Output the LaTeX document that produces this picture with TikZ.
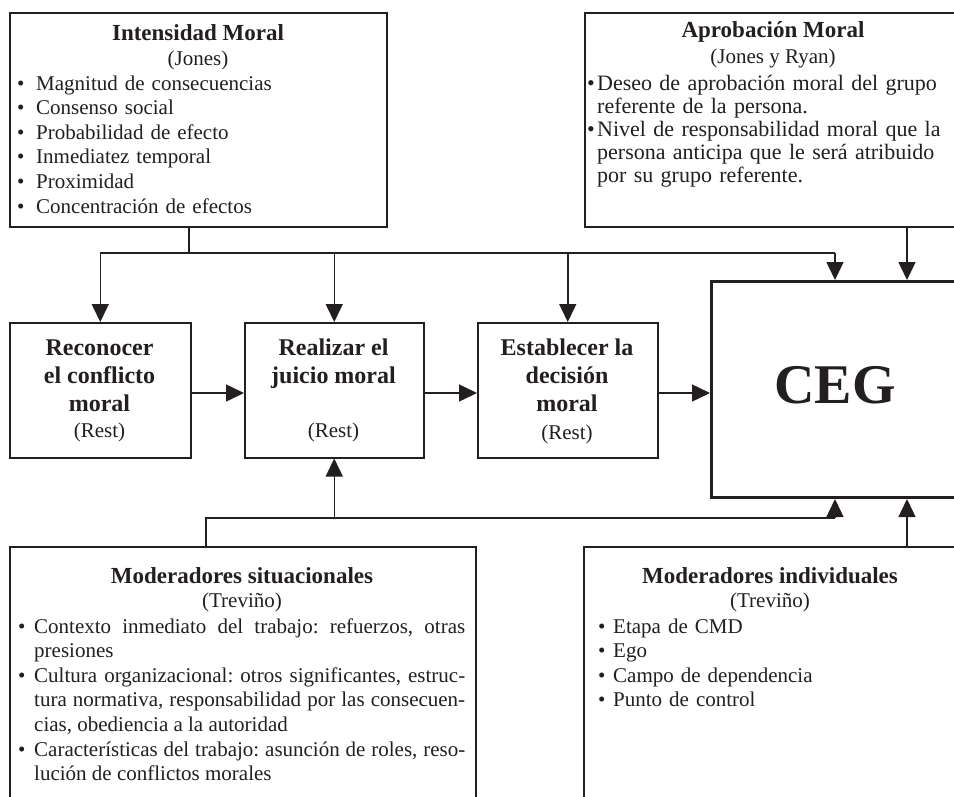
\documentclass[tikz,border=0pt]{standalone}
\usepackage{fontspec}
\setmainfont{Liberation Serif}
\usetikzlibrary{arrows.meta,calc}
\definecolor{ink}{HTML}{231F20}
\frenchspacing
\newcommand\bitem[2][19pt]{\hangindent=#1\hangafter=1\noindent\makebox[#1][l]{\textbullet}#2\par}
\tikzset{
  box/.style={draw=ink, line width=1.5pt, anchor=north west, inner sep=0pt},
  cegbox/.style={draw=ink, line width=3pt, anchor=north west, inner sep=0pt},
  link/.style={draw=ink, line width=1.5pt},
  arr/.style={link, -{Triangle[length=18pt,width=17pt]}},
  ttl/.style={font=\fontsize{23}{27}\selectfont\bfseries, anchor=base, inner sep=0pt, text=ink},
  sub/.style={font=\fontsize{21}{24.5}\selectfont, anchor=base, inner sep=0pt, text=ink},
  stage/.style={font=\fontsize{24}{28}\selectfont\bfseries, anchor=base, inner sep=0pt, text=ink, align=center},
  lst/.style={font=\fontsize{21}{24.6}\selectfont\frenchspacing, anchor=base west, inner sep=0pt, text=ink, align=left},
}
\begin{document}
\begin{tikzpicture}[x=1pt,y=-1pt]
\clip (0,0) rectangle (954,796);
\fill[white] (0,0) rectangle (954,796);

% boxes
\node[box, minimum width=377pt, minimum height=214pt] (int) at (9,12) {};
\node[box, minimum width=400pt, minimum height=214pt] (apr) at (584,12) {};
\node[box, minimum width=181pt, minimum height=135pt] (rec) at (9,322) {};
\node[box, minimum width=179pt, minimum height=135pt] (rea) at (244,322) {};
\node[box, minimum width=180pt, minimum height=135pt] (est) at (477,322) {};
\node[cegbox, minimum width=300pt, minimum height=216pt] (ceg) at (710,280) {};
\node[box, minimum width=466pt, minimum height=300pt] (sit) at (9,546) {};
\node[box, minimum width=400pt, minimum height=300pt] (ind) at (583,546) {};

% Intensidad Moral
\node[ttl] (intT) at (198,40) {Intensidad Moral};
\node[sub] (intS) at (198,65) {(Jones)};
\node[lst, text width=360pt] (intL) at (17,90) {%
\bitem{Magnitud de consecuencias}%
\bitem{Consenso social}%
\bitem{Probabilidad de efecto}%
\bitem{Inmediatez temporal}%
\bitem{Proximidad}%
\bitem{Concentración de efectos}};

% Aprobacion Moral
\node[ttl] (aprT) at (773,37) {Aprobación Moral};
\node[sub] (aprS) at (773,63) {(Jones y Ryan)};
\node[lst, text width=362pt, font=\fontsize{22}{23}\selectfont] (aprL) at (587,90) {%
\bitem[10pt]{Deseo de aprobación moral del grupo\newline referente de la persona.}%
\bitem[10pt]{Nivel de responsabilidad moral que la\newline persona anticipa que le será atribuido\newline por su grupo referente.}};

% stages (base = last line)
\node[stage] (recT) at (99.5,411) {Reconocer\\el conflicto\\moral};
\node[sub] (recS) at (99.5,437) {(Rest)};
\node[stage] (reaT) at (333.5,383) {Realizar el\\juicio moral};
\node[sub] (reaS) at (333.5,437) {(Rest)};
\node[stage] (estT) at (567,411) {Establecer la\\decisión\\moral};
\node[sub] (estS) at (567,439) {(Rest)};
\node[font=\fontsize{56}{60}\selectfont\bfseries, anchor=base, inner sep=0pt, text=ink] (cegT) at (835,403) {CEG};

% Moderadores situacionales
\node[ttl] (sitT) at (242,583) {Moderadores situacionales};
\node[sub] (sitS) at (242,607) {(Treviño)};
\node[lst, text width=447pt, align=justify] (sitL) at (18,633) {%
\bitem[16pt]{Contexto inmediato del trabajo: refuerzos, otras\linebreak presiones}%
\bitem[16pt]{Cultura organizacional: otros significantes, estruc-\linebreak tura normativa, responsabilidad por las consecuen-\linebreak cias, obediencia a la autoridad}%
\bitem[16pt]{Características del trabajo: asunción de roles, reso-\linebreak lución de conflictos morales}};

% Moderadores individuales
\node[ttl] (indT) at (770,583) {Moderadores individuales};
\node[sub] (indS) at (770,607) {(Treviño)};
\node[lst, text width=330pt] (indL) at (598,633) {%
\bitem[15pt]{Etapa de CMD}%
\bitem[15pt]{Ego}%
\bitem[15pt]{Campo de dependencia}%
\bitem[15pt]{Punto de control}};

% junctions
\coordinate (j1) at (189,253);
\coordinate (c1) at (835,253);
\coordinate (c2) at (907,0);
\coordinate (j2) at (206,518);
\coordinate (c3) at (835,518);
\coordinate (hy) at (0,393);

% top connectors
\draw[link] (int.south -| j1) -- (j1);
\draw[link] (rec.north |- j1) -- (c1);
\draw[arr] (rec.north |- j1) -- (rec.north);
\draw[arr] (rea.north |- j1) -- (rea.north);
\draw[arr] (est.north |- j1) -- (est.north);
\draw[arr] (c1) -- (ceg.north -| c1);
\draw[arr] (apr.south -| c2) -- (ceg.north -| c2);

% horizontal flow
\draw[arr] (rec.east |- hy) -- (rea.west |- hy);
\draw[arr] (rea.east |- hy) -- (est.west |- hy);
\draw[arr] (est.east |- hy) -- (ceg.west |- hy);

% bottom connectors
\draw[link] (sit.north -| j2) -- (j2) -- (c3);
\draw[arr] (rea.south |- j2) -- (rea.south);
\draw[arr] (c3) -- (ceg.south -| c3);
\draw[arr] (ind.north -| c2) -- (ceg.south -| c2);
\end{tikzpicture}
\end{document}
